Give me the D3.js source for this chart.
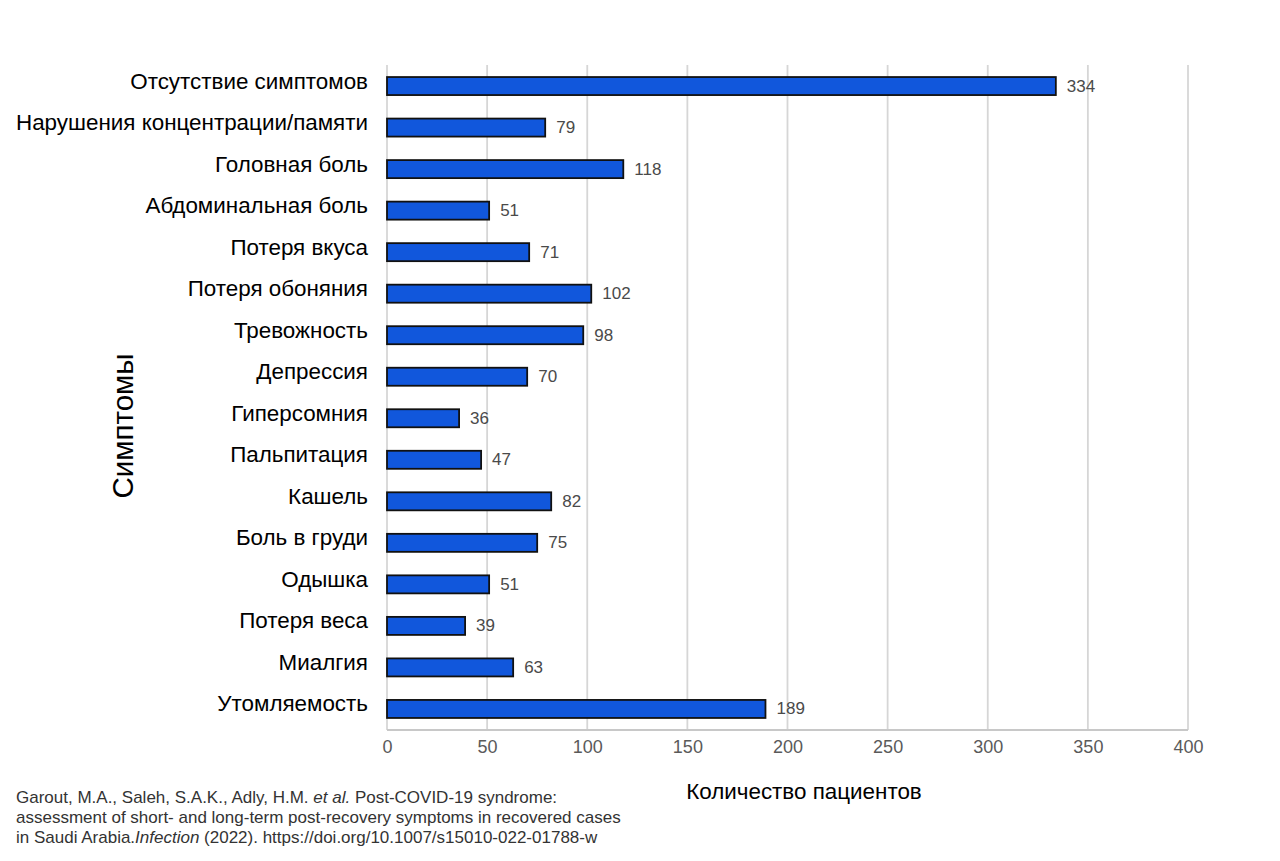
<!DOCTYPE html>
<html><head><meta charset="utf-8">
<script src="https://cdn.jsdelivr.net/npm/d3@7"></script>
<style>body{margin:0;background:#fff}svg{display:block}</style>
</head><body>
<script>
const categories = ["Отсутствие симптомов","Нарушения концентрации/памяти","Головная боль","Абдоминальная боль","Потеря вкуса","Потеря обоняния","Тревожность","Депрессия","Гиперсомния","Пальпитация","Кашель","Боль в груди","Одышка","Потеря веса","Миалгия","Утомляемость"];
const values = [334,79,118,51,71,102,98,70,36,47,82,75,51,39,63,189];
const xTicks = [0,50,100,150,200,250,300,350,400];
const xTitle = "Количество пациентов";
const yTitle = "Симптомы";
const citation = ["Garout, M.A., Saleh, S.A.K., Adly, H.M. <i>et al.</i> Post-COVID-19 syndrome:",
 "assessment of short- and long-term post-recovery symptoms in recovered cases",
 "in Saudi Arabia.<i>Infection</i> (2022). https://doi.org/10.1007/s15010-022-01788-w"];

const W=1280,H=861;
const svg=d3.select("body").append("svg").attr("width",W).attr("height",H);
const pL=387,pR=1188,pT=65,pB=730;
const x=d3.scaleLinear().domain([0,400]).range([pL,pR]);
const y=d3.scaleBand().domain(categories).range([pT,pB]).paddingInner(0.566).paddingOuter(0.29);
const FONT="'Liberation Sans',Arial,sans-serif";

// grid
svg.append("g").selectAll("line").data(xTicks).join("line")
 .attr("x1",d=>x(d)).attr("x2",d=>x(d)).attr("y1",pT).attr("y2",pB)
 .attr("stroke","#d6d6d6").attr("stroke-width",1.8);
svg.append("line").attr("x1",pL).attr("x2",pR).attr("y1",pB).attr("y2",pB)
 .attr("stroke","#c8c8c8").attr("stroke-width",1.8);

// x axis tick labels via axis
const ax=svg.append("g").attr("transform",`translate(0,${pB})`)
 .call(d3.axisBottom(x).tickValues(xTicks).tickSize(0).tickPadding(10));
ax.select(".domain").remove();
ax.selectAll("text").attr("font-family",FONT)
 .attr("font-size",18).attr("fill","#5a5a5a");

// bars
svg.append("g").selectAll("rect").data(values).join("rect")
 .attr("x",x(0)).attr("y",(d,i)=>y(categories[i]))
 .attr("width",d=>x(d)-x(0)).attr("height",y.bandwidth())
 .attr("fill","#1157dc").attr("stroke","#111").attr("stroke-width",1.8);

// value labels
svg.append("g").selectAll("text").data(values).join("text")
 .attr("x",d=>x(d)+11).attr("y",(d,i)=>y(categories[i])+y.bandwidth()/2)
 .attr("dominant-baseline","central")
 .attr("font-family",FONT)
 .attr("font-size",17).attr("fill","#4a4a4a").text(d=>d);

// category labels
svg.append("g").selectAll("text").data(categories).join("text")
 .attr("x",368).attr("y",d=>y(d)+y.bandwidth()/2-5)
 .attr("dominant-baseline","central").attr("text-anchor","end")
 .attr("font-family",FONT).attr("font-size",22.4).attr("fill","#000")
 .text(d=>d);

// titles
svg.append("text").attr("x",804).attr("y",799).attr("text-anchor","middle")
 .attr("font-family",FONT).attr("font-size",22.4).attr("fill","#000").text(xTitle);
svg.append("text").attr("transform","translate(133,426) rotate(-90)").attr("text-anchor","middle")
 .attr("font-family",FONT).attr("font-size",29.5).attr("fill","#000").text(yTitle);

// citation
svg.append("g").selectAll("text").data(citation).join("text")
 .attr("x",16).attr("y",(d,i)=>803+i*20)
 .attr("font-family",FONT).attr("font-size",17).attr("fill","#333")
 .html(d=>d.replace(/<i>/g,'<tspan font-style="italic">').replace(/<\/i>/g,'</tspan>'));
</script>
</body></html>
